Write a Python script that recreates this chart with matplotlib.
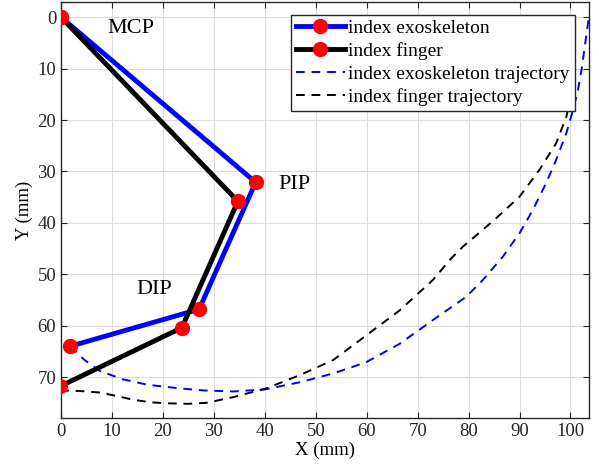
import matplotlib
matplotlib.use("Agg")
import matplotlib.pyplot as plt
import numpy as np

plt.rcParams['font.family'] = ['Liberation Serif', 'DejaVu Serif']

# joints: MCP, PIP, DIP, tip
exo_x = [0, 38.2, 27.1, 1.8]
exo_y = [0, 32.1, 56.8, 64.0]
fin_x = [0, 34.7, 23.7, -0.2]
fin_y = [0, 35.8, 60.4, 71.8]

# fingertip trajectories
exo_tx = [1.8, 4.5, 7.6, 12.0, 17.0, 23.3, 28.0, 33.8, 40.0, 46.9, 53.4, 59.9,
          66.5, 73.0, 79.5, 82.8, 86.7, 90.0, 92.6, 95.2, 97.2, 99.2, 100.5,
          101.4, 102.2, 102.9, 103.6]
exo_ty = [64.0, 66.6, 68.8, 70.4, 71.5, 72.2, 72.6, 72.8, 72.4, 71.0, 69.3, 67.1,
          63.5, 58.9, 54.4, 51.1, 46.6, 42.0, 37.5, 32.3, 27.7, 22.5, 18.0,
          14.5, 10.0, 5.0, 0.0]
fin_tx = [-0.2, 3.5, 7.6, 11.0, 14.1, 17.5, 20.7, 25.0, 28.6, 33.8, 40.3, 46.9,
          53.4, 59.9, 66.5, 73.0, 76.5, 78.9, 82.0, 85.4, 90.0, 93.9, 97.2,
          99.2, 100.2]
fin_ty = [72.6, 72.7, 73.0, 73.7, 74.4, 74.9, 75.1, 75.2, 75.0, 73.9, 72.2, 69.6,
          66.7, 61.9, 57.0, 51.1, 47.0, 44.6, 42.0, 39.1, 34.9, 29.7, 24.5,
          19.3, 15.0]

labels = ["MCP", "PIP", "DIP"]
label_pos = [(9.0, 2.2), (42.6, 32.5), (14.8, 53.0)]

fig = plt.figure(figsize=(5.99, 4.72), dpi=100)
ax = fig.add_axes([0.102, 0.114, 0.881, 0.882])

ax.plot(exo_x, exo_y, color='blue', lw=3.5, marker='o', ms=10,
        mfc='red', mec='red', label='index exoskeleton', zorder=3)
ax.plot(fin_x, fin_y, color='black', lw=3.5, marker='o', ms=10,
        mfc='red', mec='red', label='index finger', zorder=3)
ax.plot(exo_tx, exo_ty, color='blue', lw=1.4, dashes=(4.5, 3.5),
        label='index exoskeleton trajectory', zorder=2)
ax.plot(fin_tx, fin_ty, color='black', lw=1.4, dashes=(4.5, 3.5),
        label='index finger trajectory', zorder=2)

for t, (x, y) in zip(labels, label_pos):
    ax.text(x, y, t, fontsize=16, ha='left', va='center')

ax.set_xlim(0, 103.6)
ax.set_ylim(78, -3)
ax.set_xticks(np.arange(0, 101, 10))
ax.set_yticks(np.arange(0, 71, 10))
ax.grid(True, color='#dcdcdc', lw=0.8)
ax.set_axisbelow(True)
ax.tick_params(direction='in', top=True, right=True, labelsize=13.5,
               colors='#262626', length=4)
for s in ax.spines.values():
    s.set_color('#262626')
    s.set_linewidth(1.0)
ax.set_xlabel('X (mm)', fontsize=13.5, labelpad=1)
ax.set_ylabel('Y (mm)', fontsize=13.5, labelpad=3)

leg = ax.legend(loc='upper right', bbox_to_anchor=(0.9735, 0.969), fontsize=14,
                handlelength=2.5, handletextpad=0.2, borderpad=0.25,
                labelspacing=0.26, fancybox=False, framealpha=1,
                edgecolor='#262626', borderaxespad=0)
leg.get_frame().set_linewidth(1.0)

fig.savefig('out.png', dpi=100)
